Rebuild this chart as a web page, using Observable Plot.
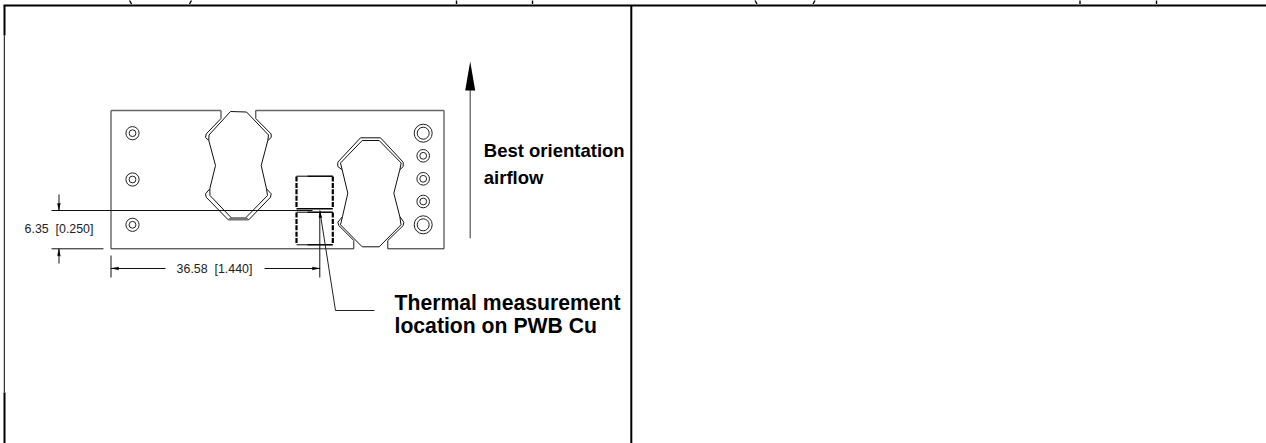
<!DOCTYPE html>
<html><head><meta charset="utf-8">
<script src="https://cdn.jsdelivr.net/npm/d3@7"></script>
<script src="https://cdn.jsdelivr.net/npm/@observablehq/plot@0.6"></script>
<style>html,body{margin:0;padding:0;background:#fff}svg{display:block}</style>
</head><body>
<div id="chart"></div>
<script>
// Frame rules
const frameTop = [[3,5],[1266,5]];
const frameLeftUpper = [[4,5],[4,35]];
const frameLeftThin = [[3.8,35],[3.8,392]];
const frameLeftLower = [[4,392],[4,442.7]];
const frameDivider = [[630.8,5],[630.8,442.7]];
// Clipped text above the frame
const clipped = [
 [[129,0],[131,3.5]],[[191,0],[189,3.5]],
 [[456,0],[456,3.5]],[[532,0],[532,3.5]],
 [[754.5,0],[756.5,3.5]],[[814.5,0],[812.5,3.5]],
 [[1079.5,0],[1079.5,3.5]],[[1156,0],[1156,3.5]]
];
// Board outline
const boardOutline = [
 [[220.5,118],[220.5,110],[110.5,110],[110.5,248.3],[353.3,248.3],[353.3,240]],
 [[255.3,118],[255.3,110],[443.5,110],[443.5,248.3],[387.3,248.3],[387.3,240]]
];
const boardTopEdge = [[[220.5,110],[110.5,110]],[[255.3,110],[443.5,110]]];
// Left connector
const connectorA = [
 [[220.5,118],[205.7,133.5],[205,137],[208.3,140],[215,165],[209.3,188.3],[205,193.3],[205.7,196.7],[227.7,219.3],[248.3,219.3],[270,196.7],[270.7,193.3],[266,188.3],[260.7,165],[267.3,140],[270.7,137],[270.7,133.5],[255.3,118]],
 [[230,111],[246,111.5],[268,134.5],[267.3,140]],
 [[230,111],[208.5,134.5],[208.3,140]],
 [[209.3,188.3],[209.5,195],[231,217.5],[245,217.5],[267,195],[266,188.3]]
];
const connectorAFoot = [[228.5,218.5],[247.5,218.5]];
// Right connector
const connectorB = [
 [[353.3,240],[338.3,225],[337.3,221.7],[342,216],[347.3,192.7],[341.7,169.3],[337.3,166],[337.3,161.7],[360,137.3],[380,137.3],[402.7,161.7],[402.7,166],[399.3,169.3],[393.3,192.7],[399.3,216],[403.3,221.7],[402.7,225],[387.3,240]],
 [[341.7,169.3],[340,162.5],[361.7,140],[378.7,140],[400.7,162.5],[399.3,169.3]],
 [[342,216],[340,224.3],[361.7,246.3],[378.7,246.3],[400.5,224.3],[399.3,216]]
];
// Small square parts
const partEdges = [
 [[306.7,175.7],[332.3,175.7]],
 [[296,208.3],[332.3,208.3]],
 [[306.7,211.7],[332.3,211.7]],
 [[306.7,244.3],[332.3,244.3]]
];
const partThin = [
 [[296,175.7],[306.7,175.7]],
 [[296,211.7],[306.7,211.7]],
 [[296,244.3],[306.7,244.3]]
];
const partSides = [
 [[296,176],[296,208]],[[332.3,176],[332.3,208]],
 [[296,212],[296,244]],[[332.3,212],[332.3,244]]
];
// Dimension lines
const dimLines = [
 [[51,210],[312,210]],[[51,248.3],[103,248.3]],
 [[58.5,194],[58.5,210]],[[58.5,248.3],[58.5,263]],
 [[110.5,255],[110.5,277]],[[110.5,268],[165,268]],[[264,268],[319.3,268]],
 [[319.3,212],[319.3,277]]
];
const leader = [[319.3,210],[335,310],[374,310]];
const arrowheads = [
 [[58.5,210],[57,203],[60,203]],
 [[58.5,248.3],[57,255.3],[60,255.3]],
 [[110.5,268],[118,266.5],[118,269.5]],
 [[319.3,268],[312,266.5],[312,269.5]],
 [[319.6,210.5],[318.5,217],[321.5,217]]
];
// Airflow arrow
const airflowShaft = [[469.7,237.7],[469.7,88]];
const airflowHead = [[469.7,61],[464.7,90],[474.7,90]];
// Holes
const holeX = [132,132,132,422.7,422.7,422.7,422.7,422.7];
const holeY = [132.7,179,224.3,132.7,155.3,178.3,201,224.3];
const holeOuter = [6.6,6.6,6.6,9,6.3,6.3,6.3,9];
const holeInner = [3.4,3.4,3.4,6,3.4,3.4,3.4,6];
// Labels
const labelText = ["Best orientation","airflow","Thermal measurement","location on PWB Cu"];
const labelX = [483.3,483.3,394,394];
const labelY = [156.7,183.3,309,332.3];
const labelSize = [18.5,18.5,21.2,21.2];
const dimText = ["6.35  [0.250]","36.58  [1.440]"];
const dimX = [58.5,214];
const dimY = [229,268.5];

const table = segs => segs.flatMap((s,i)=>s.map(p=>({x:p[0],y:p[1],z:i})));
const path = (segs,o) => Plot.line(table(segs),{x:"x",y:"y",z:"z",stroke:"#000",strokeLinejoin:"miter",strokeLinecap:"butt",...o});
const holes = holeX.map((x,i)=>({x,y:holeY[i],a:holeOuter[i],b:holeInner[i]}));
const labels = labelText.map((t,i)=>({t,x:labelX[i],y:labelY[i],s:labelSize[i]}));
const dims = dimText.map((t,i)=>({t,x:dimX[i],y:dimY[i]}));

const chart = Plot.plot({
  width:1266,height:443,margin:0,
  x:{domain:[0,1266],range:[0,1266],axis:null},
  y:{domain:[0,443],range:[0,443],axis:null},
  r:{type:"identity"},
  style:{background:"#fff",fontFamily:"'Liberation Sans',Arial,sans-serif"},
  marks:[
    path(clipped,{strokeWidth:1.4}),
    path(boardOutline,{strokeWidth:1,stroke:"#222"}),
    path(boardTopEdge,{strokeWidth:1.4,stroke:"#666"}),
    path(connectorA,{strokeWidth:1,stroke:"#111"}),
    path([connectorAFoot],{strokeWidth:2,stroke:"#777"}),
    path(connectorB,{strokeWidth:1,stroke:"#111"}),
    path(partThin,{strokeWidth:1}),
    path(partEdges,{strokeWidth:1.5}),
    path(partSides,{strokeWidth:2.2,strokeDasharray:"5 1.4"}),
    path(dimLines,{strokeWidth:1,stroke:"#111"}),
    path([leader],{strokeWidth:1,stroke:"#222"}),
    Plot.line(table(arrowheads),{x:"x",y:"y",z:"z",fill:"#000",stroke:"#000",strokeWidth:.4}),
    path([airflowShaft],{strokeWidth:1.2,stroke:"#555"}),
    Plot.line(table([airflowHead]),{x:"x",y:"y",z:"z",fill:"#000",stroke:"none"}),
    Plot.dot(holes,{x:"x",y:"y",r:"a",stroke:"#222",strokeWidth:1,fill:"none"}),
    Plot.dot(holes,{x:"x",y:"y",r:"b",stroke:"#222",strokeWidth:1,fill:"none"}),
    Plot.text(dims,{x:"x",y:"y",text:"t",fontSize:12.4,fill:"#222",lineAnchor:"middle",textAnchor:"middle"}),
    Plot.text(labels,{x:"x",y:"y",text:"t",fontSize:"s",fontWeight:"bold",fill:"#000",textAnchor:"start",lineAnchor:"bottom"}),
    path([frameTop],{strokeWidth:2}),
    path([frameLeftUpper],{strokeWidth:2}),
    path([frameLeftThin],{strokeWidth:1}),
    path([frameLeftLower],{strokeWidth:2}),
    path([frameDivider],{strokeWidth:2})
  ]
});
document.getElementById("chart").append(chart);
</script>
</body></html>
